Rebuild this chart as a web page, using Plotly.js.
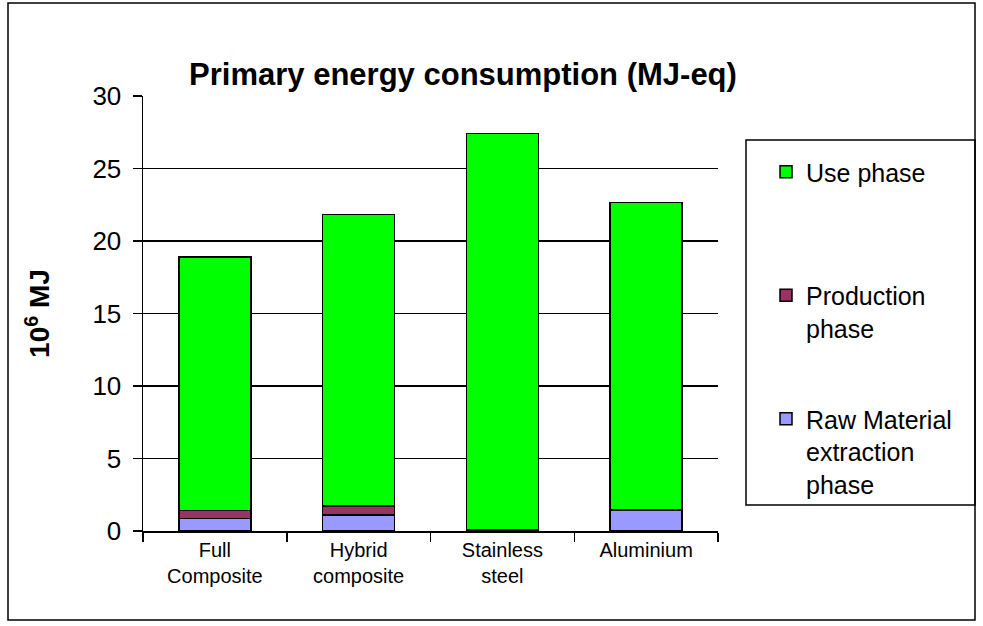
<!DOCTYPE html>
<html>
<head>
<meta charset="utf-8">
<script src="https://cdn.plot.ly/plotly-3.0.1.min.js"></script>
<style>html,body{margin:0;padding:0;background:#fff;}#chart{width:983px;height:626px;}</style>
</head>
<body>
<div id="chart"></div>
<script>
const categories = ["Full<br>Composite", "Hybrid<br>composite", "Stainless<br>steel", "Aluminium"];
const rawMaterial = [0.85, 1.12, 0.05, 1.42];
const production = [0.57, 0.62, 0.05, 0.03];
const usePhase = [17.49, 20.10, 27.30, 21.22];
const seriesNames = ["Raw Material<br>extraction<br>phase", "Production<br>phase<br>&nbsp;", "Use phase<br>&nbsp;<br>&nbsp;"];
const seriesColors = ["#9999FF", "#993366", "#00FF00"];
const legendRanks = [3, 2, 1];
const yTicks = [0, 5, 10, 15, 20, 25, 30];

const FONT = "Liberation Sans, Arial, sans-serif";
const series = [rawMaterial, production, usePhase];
const traces = series.map((vals, i) => ({
  type: "bar",
  x: categories,
  y: vals,
  name: seriesNames[i],
  legendgroup: "g" + i,
  legendrank: legendRanks[i],
  marker: {color: seriesColors[i], line: {color: "#000", width: 1.5}},
  hoverinfo: "skip"
}));

// plot area in px
const L = 143, R = 718, T = 96, B = 531, W = 983, H = 626;
const px = x => (x - L) / (R - L);
const py = y => (B - y) / (B - T);

const layout = {
  width: W, height: H,
  margin: {l: L, r: W - R, t: T, b: H - B, pad: 0},
  paper_bgcolor: "#fff", plot_bgcolor: "#fff",
  barmode: "stack",
  bargap: 0.5,
  font: {family: FONT, color: "#000"},
  title: {
    text: "<b>Primary energy consumption (MJ-eq)</b>",
    font: {family: FONT, size: 31, color: "#000"},
    x: 463 / W, xanchor: "center", xref: "container",
    y: 1 - 74 / H, yanchor: "middle", yref: "container"
  },
  xaxis: {
    type: "category",
    showline: true, linecolor: "#000", linewidth: 1.5,
    ticks: "outside", tickson: "boundaries", ticklen: 9, tickcolor: "#000", tickwidth: 1.5,
    tickfont: {family: FONT, size: 20, color: "#000"},
    showgrid: false, automargin: false
  },
  yaxis: {
    range: [0, 30],
    tickvals: yTicks,
    ticktext: yTicks.map(String),
    showline: true, linecolor: "#000", linewidth: 1.5,
    ticks: "outside", ticklen: 9, tickcolor: "#000", tickwidth: 1.5,
    ticklabelstandoff: 6,
    showgrid: true, gridcolor: "#000", gridwidth: 1.2,
    zeroline: false,
    tickfont: {family: FONT, size: 26, color: "#000"},
    title: {text: "<b>10<sup>6</sup> MJ</b>", font: {family: FONT, size: 28, color: "#000"}, standoff: 34},
    automargin: false
  },
  showlegend: true,
  legend: {
    x: px(766), xanchor: "left", xref: "paper",
    y: py(149), yanchor: "top", yref: "paper",
    traceorder: "grouped",
    valign: "top",
    tracegroupgap: 23,
    bgcolor: "rgba(0,0,0,0)",
    borderwidth: 0,
    font: {family: FONT, size: 25, color: "#000"}
  },
  shapes: [
    {type: "rect", xref: "paper", yref: "paper", x0: px(8), x1: px(975), y0: py(620), y1: py(3),
     line: {color: "#000", width: 1.5}, fillcolor: "rgba(0,0,0,0)", layer: "below"},
    {type: "rect", xref: "paper", yref: "paper", x0: px(746), x1: px(975), y0: py(505), y1: py(140),
     line: {color: "#000", width: 1.5}, fillcolor: "rgba(0,0,0,0)"}
  ]
};

Plotly.newPlot("chart", traces, layout, {staticPlot: true, displayModeBar: false});
</script>
</body>
</html>
